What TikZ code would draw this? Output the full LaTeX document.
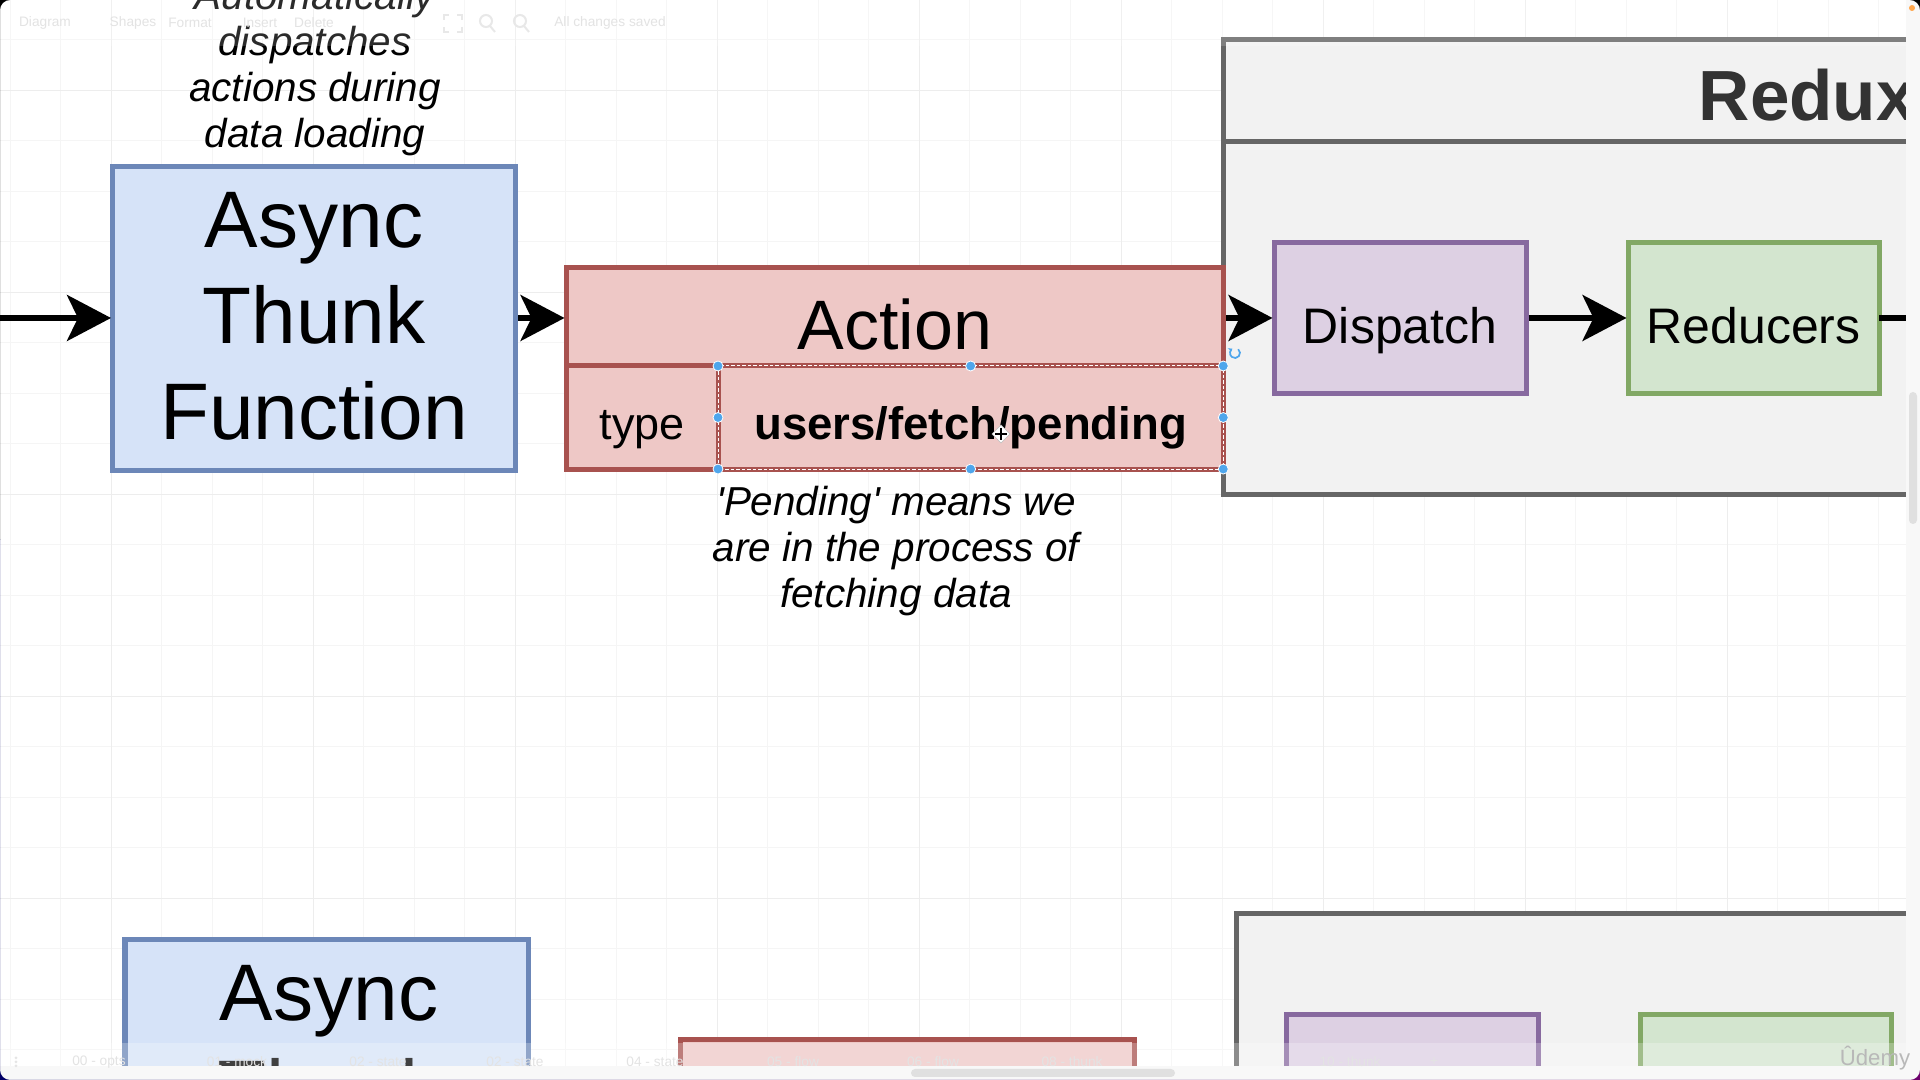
\documentclass[tikz,border=0pt]{standalone}
\usepackage{fontspec}
\setmainfont{Liberation Sans}
\usetikzlibrary{arrows.meta,positioning}

\definecolor{blueFill}{HTML}{D6E3F8}
\definecolor{blueLine}{HTML}{6C87B8}
\definecolor{redFill}{HTML}{EEC8C6}
\definecolor{redLine}{HTML}{A8524F}
\definecolor{purpleFill}{HTML}{DDD0E3}
\definecolor{purpleLine}{HTML}{87699F}
\definecolor{greenFill}{HTML}{D3E5CF}
\definecolor{greenLine}{HTML}{82A865}
\definecolor{storeFill}{HTML}{F2F2F2}
\definecolor{storeLine}{HTML}{666666}
\definecolor{gripBlue}{HTML}{4FA6EC}
\definecolor{barGrey}{HTML}{F8F8F8}

\tikzset{
	box/.style={draw, line width=0.05cm, inner sep=0pt, outer sep=0pt, anchor=north west, align=center},
	asyncbox/.style={box, fill=blueFill, draw=blueLine, minimum width=4.03cm, minimum height=3.04cm,
		font=\fontsize{22.8}{27.3}\selectfont, text depth=0.05cm},
	actionbox/.style={box, fill=redFill, draw=redLine},
	storebox/.style={box, fill=storeFill, draw=storeLine, minimum width=8cm},
	dispatchbox/.style={box, fill=purpleFill, draw=purpleLine, minimum width=2.52cm, minimum height=1.51cm,
		font=\fontsize{14.2}{17}\selectfont, text height=0.50cm, text depth=0cm},
	reducerbox/.style={box, fill=greenFill, draw=greenLine, minimum width=2.51cm, minimum height=1.51cm,
		font=\fontsize{14.2}{17}\selectfont, text height=0.50cm, text depth=0cm},
	note/.style={font=\fontsize{11.5}{13}\selectfont\itshape, align=center, inner sep=0pt},
	flow/.style={line width=0.052cm, shorten >=0.015cm, shorten <=0.025cm,
		-{Stealth[length=0.44cm, width=0.46cm, inset=0.11cm]}},
	grip/.style={circle, fill=gripBlue, draw=white, line width=0.008cm, minimum size=0.1cm, inner sep=0pt},
	faint/.style={text=black!11, font=\fontsize{3.9}{5}\selectfont, inner sep=0pt},
	faintline/.style={draw=black!9, line width=0.02cm},
}

\begin{document}
\begin{tikzpicture}[x=0.01cm, y=-0.01cm]
	\useasboundingbox (0,0) rectangle (1920,1080);
	\clip (0,0) rectangle (1920,1080);

	% Page and grid
	\fill[white] (0,0) rectangle (1920,1080);
	\foreach \x in {10,60.5,...,1920}
	\draw[black!4, line width=0.008cm] (\x,0) -- (\x,1080);
	\foreach \y in {39.5,90,...,1080}
	\draw[black!4, line width=0.008cm] (0,\y) -- (1920,\y);
	\foreach \x in {111.5,313.5,...,1920}
	\draw[black!7, line width=0.008cm] (\x,0) -- (\x,1080);
	\foreach \y in {90,292,...,1080}
	\draw[black!7, line width=0.008cm] (0,\y) -- (1920,\y);

	% Upper row
	\node[storebox, minimum height=4.546cm] (storeTop) at (1223,40) {};
	\node[storebox, minimum height=1.01cm] (storeHead) at (1223,40) {};
	\node[font=\fontsize{20.2}{24}\selectfont\bfseries, text=black!80, anchor=base west, inner sep=0pt] (storeTitle) at (1698,121) {Redux};
	\node[asyncbox] (asyncTop) at (112.5,166.5) {Async\\Thunk\\Function};
	\node[actionbox, minimum width=6.57cm, minimum height=0.99cm, font=\fontsize{19.9}{24}\selectfont,
		text height=0.65cm, text depth=0cm] (actionTop) at (566,267.5) {Action};
	\node[actionbox, minimum width=1.52cm, minimum height=1.03cm, font=\fontsize{12.8}{15}\selectfont,
		text height=0.44cm, text depth=0cm] (typeKey) at (566,366) {type};
	\node[actionbox, minimum width=5.05cm, minimum height=1.03cm, font=\fontsize{12.95}{15}\selectfont\bfseries,
		text height=0.44cm, text depth=0cm] (typeValue) at (718,366) {users/fetch/pending};
	\node[dispatchbox] (dispatchTop) at (1274,242.5) {Dispatch};
	\node[reducerbox] (reducerTop) at (1628,242.5) {Reducers};

	% Notes
	\node[note] (noteAsync) at (315,68) {Automatically\\dispatches\\actions during\\data loading};
	\node[note] (notePending) at (896,551) {\textquotesingle Pending\textquotesingle{} means we\\are in the process of\\fetching data};

	% Arrows
	\coordinate (inTop) at (-10,318);
	\coordinate (outTop) at (1920,318);
	\draw[flow] (inTop) -- (asyncTop.west |- inTop);
	\draw[flow] (asyncTop.east |- inTop) -- (actionTop.west |- inTop);
	\draw[flow] (actionTop.east |- inTop) -- (dispatchTop.west |- inTop);
	\draw[flow] (dispatchTop.east |- inTop) -- (reducerTop.west |- inTop);
	\draw[line width=0.052cm] (reducerTop.east |- inTop) -- (outTop);

	% Selected cell
	\draw[white, line width=0.01cm, dash pattern=on 0.035cm off 0.02cm] (typeValue.north west) rectangle (typeValue.south east);
	\foreach \name/\where in {a/north west, b/north, c/north east, d/west, e/east, f/south west, g/south, h/south east}
	\node[grip] (grip\name) at (typeValue.\where) {};
	\draw[gripBlue, line width=0.017cm, -{Stealth[length=0.04cm, width=0.055cm]}] (1238.2,349.2) arc (50:-240:0.05cm);
	% Move cursor
	\fill[white, draw=black!25, line width=0.005cm] (1001,425) -- (1010,434) -- (1001,443) -- (992,434) -- cycle;
	\draw[black, line width=0.02cm] (995,434) -- (1007,434) (1001,428) -- (1001,440);

	% Lower row
	\node[asyncbox] (asyncLow) at (125,939.5) {\hspace*{0.05cm}Async\\\hspace*{0.05cm}Thunk\\\hspace*{0.05cm}Function};
	\node[actionbox, minimum width=4.54cm, minimum height=0.99cm] (actionLow) at (680,1040) {};
	\node[storebox, minimum height=4.546cm] (storeLow) at (1236,914) {};
	\node[dispatchbox] (dispatchLow) at (1286.5,1015) {};
	\node[reducerbox] (reducerLow) at (1640.5,1015) {};

	% Toolbars laid over the page
	\fill[white, opacity=0.17] (0,0) rectangle (1906,46);
	\fill[white, opacity=0.25] (0,1043) rectangle (1906,1066);
	\fill[barGrey] (0,1066) rectangle (1920,1080);
	\fill[barGrey] (1906,0) rectangle (1920,1080);
	\fill[black!12, rounded corners=0.04cm] (1909,392) rectangle (1917,524);
	\fill[black!12, rounded corners=0.04cm] (911,1069) rectangle (1175,1077);
	\fill[orange!70] (1912,8) circle (0.03cm);
	\foreach \lab/\x in {Diagram/45, Shapes/133, Format/190, Insert/260, Delete/314, All changes saved/610}
	\node[faint] at (\x,23) {\lab};
	\foreach \lab/\x in {00 - opts/99, 01 - mock/237, 02 - state/378, 02 - state/515, 04 - state/655, 05 - flow/793, 06 - flow/933, 08 - thunk/1072, 10 - thunk/1350, +/1434}
	\node[faint] at (\x,1062) {\lab};
	\foreach \x in {486,520}
	\draw[faintline] (\x,21) circle (0.06cm) (\x+4,26) -- (\x+9,32);
	\draw[faintline] (444,20) -- (444,15) -- (449,15) (457,15) -- (462,15) -- (462,20)
		(462,27) -- (462,32) -- (457,32) (449,32) -- (444,32) -- (444,27);
	\foreach \y in {1058,1062,1066}
	\fill[black!10] (16,\y) circle (0.015cm);
	\node[text=black!28, font=\fontsize{6.3}{7}\selectfont, inner sep=0pt] (brandMark) at (1875,1058) {Ûdemy};

	% Window corners
	\begin{scope}
	\clip (0,0) rectangle (1920,540);
	\fill[black, even odd rule] (-10,-10) rectangle (1930,1090) [rounded corners=0.1cm] (0,0) rectangle (1920,1080);
	\end{scope}
	\begin{scope}
	\clip (0,540) rectangle (1920,1080);
	\shade[left color=blue!40!black, right color=violet!85!black, even odd rule] (-10,-10) rectangle (1930,1090) [rounded corners=0.1cm] (0,0) rectangle (1920,1080);
	\end{scope}
\end{tikzpicture}
\end{document}
